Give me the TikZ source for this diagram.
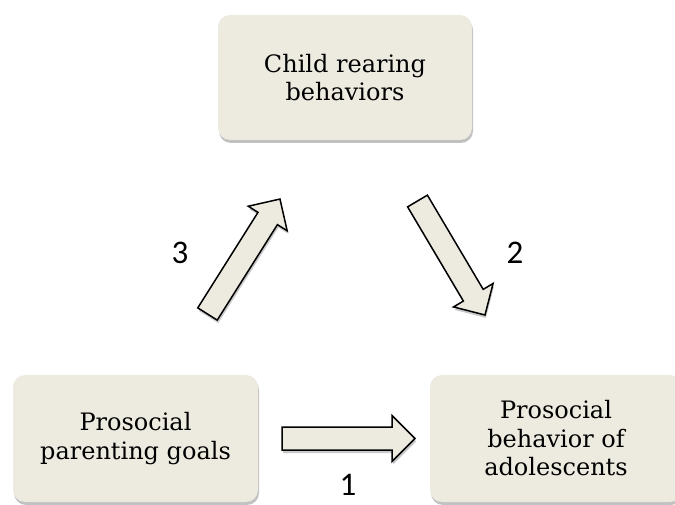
\documentclass[tikz,border=0pt]{standalone}
\usepackage{fontspec}
\setmainfont{DejaVu Serif}
\newfontfamily\numfont{Carlito}
\usetikzlibrary{shadows,calc}
\definecolor{boxfill}{RGB}{237,235,224}
\tikzset{
  box/.style={draw=none, fill=boxfill, rounded corners=12pt, align=center,
    font=\fontsize{24}{28.5}\selectfont, inner sep=0pt,
    drop shadow={shadow xshift=1pt, shadow yshift=-3pt, opacity=0.35, fill=black!70}},
  blockarrow/.style={draw=black, line width=1.5pt, fill=boxfill, line join=miter,
    drop shadow={shadow xshift=1pt, shadow yshift=-3pt, opacity=0.3, fill=black!70}},
  numlabel/.style={font=\numfont\fontsize{33}{36}\selectfont, inner sep=0pt},
  pics/blockarr/.style={code={
    \draw[blockarrow] (0,-11.5) -- (#1-23,-11.5) -- (#1-23,-23) -- (#1,0)
      -- (#1-23,23) -- (#1-23,11.5) -- (0,11.5) -- cycle;}}
}
\begin{document}
\begin{tikzpicture}[x=1pt,y=1pt]
\useasboundingbox (0,0) rectangle (675,504);
\clip (0,0) rectangle (675,504);
\node[box, minimum width=254pt, minimum height=125pt] (top) at (345,426.5) {Child rearing\\behaviors};
\node[box, minimum width=245pt, minimum height=127pt] (left) at (135.5,65.5) {Prosocial\\parenting goals};
\node[box, minimum width=252pt, minimum height=127pt] (right) at (556,65.5) {Prosocial\\behavior of\\adolescents};
\coordinate (t1) at (282,65.5);
\coordinate (t3) at (207.5,190);
\coordinate (t2) at (417.5,303);
\pic at (t1) {blockarr=133};
\pic[rotate=57.77] at (t3) {blockarr=135.9};
\pic[rotate=-59.37] at (t2) {blockarr=132.5};
\node[numlabel] (n3) at (180,251) {3};
\node[numlabel] (n2) at (515,251) {2};
\node[numlabel, anchor=base] (n1) at (348,9) {1};
\end{tikzpicture}
\end{document}
